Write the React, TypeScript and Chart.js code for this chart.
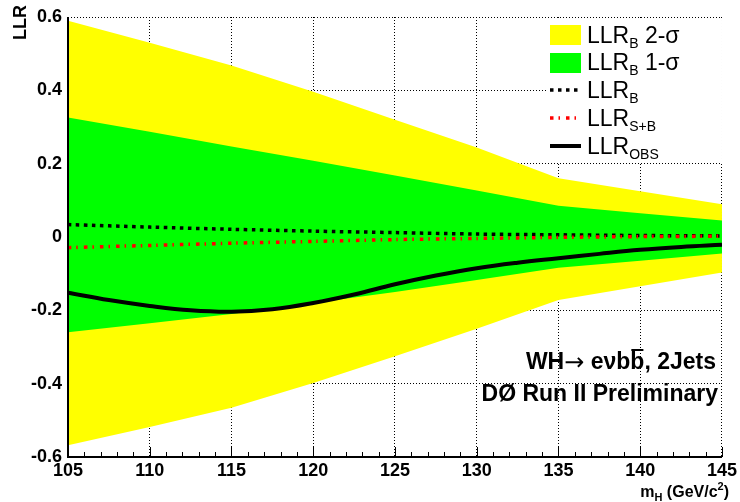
import React, { useEffect, useRef } from 'react';
import { Chart, registerables } from 'chart.js';

Chart.register(...registerables);

// ---- data ----
const masses = [105, 110, 115, 120, 125, 130, 135, 140, 145];
const yellowUpper = [0.59, 0.53, 0.468, 0.396, 0.32, 0.244, 0.16, 0.125, 0.089];
const greenUpper = [0.326, 0.287, 0.247, 0.208, 0.168, 0.127, 0.085, 0.065, 0.045];
const greenLower = [-0.26, -0.235, -0.21, -0.18, -0.15, -0.117, -0.084, -0.065, -0.045];
const yellowLower = [-0.568, -0.518, -0.466, -0.398, -0.325, -0.25, -0.172, -0.134, -0.097];
const llrB = [0.034, 0.027, 0.021, 0.016, 0.012, 0.008, 0.006, 0.004, 0.003];
const llrSB = [-0.029, -0.023, -0.017, -0.012, -0.007, -0.004, -0.001, 0.001, 0.002];
const obsMasses = [105, 107.5, 110, 112.5, 115, 117.5, 120, 122.5, 125, 127.5, 130, 132.5, 135, 137.5, 140, 142.5, 145];
const llrObs = [-0.152, -0.172, -0.188, -0.2, -0.204, -0.197, -0.18, -0.157, -0.129, -0.105, -0.085, -0.07, -0.058, -0.046, -0.035, -0.027, -0.021];

const xMin = 105;
const xMax = 145;
const xStep = 5;
const yMin = -0.6;
const yMax = 0.6;
const yStep = 0.2;

const legendLabels = [
  { main: 'LLR', sub: 'B', tail: ' 2-σ' },
  { main: 'LLR', sub: 'B', tail: ' 1-σ' },
  { main: 'LLR', sub: 'B', tail: '' },
  { main: 'LLR', sub: 'S+B', tail: '' },
  { main: 'LLR', sub: 'OBS', tail: '' },
];
const titleLine2 = 'DØ Run II Preliminary';
const xTitle = { main: 'm', sub: 'H', mid: ' (GeV/c', sup: '2', end: ')' };
const yTitle = 'LLR';

const FONT = '"Liberation Sans", Arial, Helvetica, sans-serif';
const YELLOW = '#ffff00';
const GREEN = '#00ff00';

const pts = (xs: number[], ys: number[]) => xs.map((x, i) => ({ x, y: ys[i] }));

type Run = { t: string; f: string; dy?: number; overline?: boolean };

function drawRuns(ctx: CanvasRenderingContext2D, runs: Run[], x: number, y: number, align: 'left' | 'right') {
  let total = 0;
  for (const r of runs) {
    ctx.font = r.f;
    total += ctx.measureText(r.t).width;
  }
  let cx = align === 'right' ? x - total : x;
  ctx.textAlign = 'left';
  ctx.textBaseline = 'alphabetic';
  for (const r of runs) {
    ctx.font = r.f;
    const w = ctx.measureText(r.t).width;
    ctx.fillText(r.t, cx, y + (r.dy || 0));
    if (r.overline) {
      ctx.fillRect(cx + 1, y - 20, w - 2, 2);
    }
    cx += w;
  }
}

const decorPlugin = {
  id: 'decor',
  afterDatasetsDraw(chart: any) {
    const ctx: CanvasRenderingContext2D = chart.ctx;
    const area = chart.chartArea;
    const xs = chart.scales.x;
    ctx.save();

    // frame (left & bottom axes)
    ctx.strokeStyle = '#000';
    ctx.lineWidth = 2;
    ctx.setLineDash([]);
    ctx.beginPath();
    ctx.moveTo(area.left, area.top);
    ctx.lineTo(area.left, area.bottom);
    ctx.lineTo(area.right, area.bottom);
    ctx.stroke();

    // bottom ticks (major + minor), pointing into the frame
    ctx.lineWidth = 1;
    ctx.beginPath();
    for (let m = xMin; m <= xMax; m += 1) {
      const px = Math.round(xs.getPixelForValue(m)) + 0.5;
      const len = (m - xMin) % xStep === 0 ? 10 : 5;
      ctx.moveTo(px, area.bottom);
      ctx.lineTo(px, area.bottom - len);
    }
    ctx.stroke();

    // legend box
    const lx = 548;
    ctx.fillStyle = '#fff';
    ctx.fillRect(lx, area.top + 1, area.right - lx, 162 - area.top);

    const baselines = [42.5, 70, 98, 126, 153.5];
    const symX0 = 550;
    const symX1 = 581;
    ctx.fillStyle = YELLOW;
    ctx.fillRect(symX0, 25, symX1 - symX0, 20);
    ctx.fillStyle = GREEN;
    ctx.fillRect(symX0, 53, symX1 - symX0, 20);
    const drawSym = (y: number, color: string, width: number, dash: number[]) => {
      ctx.strokeStyle = color;
      ctx.lineWidth = width;
      ctx.setLineDash(dash);
      ctx.beginPath();
      ctx.moveTo(symX0, y);
      ctx.lineTo(symX1, y);
      ctx.stroke();
    };
    drawSym(90, '#000', 3.5, [3.5, 4.5]);
    drawSym(118, '#ff0000', 3.5, [3.5, 5, 1.5, 6]);
    drawSym(146, '#000', 4, []);
    ctx.setLineDash([]);

    ctx.fillStyle = '#000';
    legendLabels.forEach((l, i) => {
      const runs: Run[] = [
        { t: l.main, f: `23px ${FONT}` },
        { t: l.sub, f: `14px ${FONT}`, dy: 5 },
      ];
      if (l.tail) runs.push({ t: l.tail, f: `23px ${FONT}` });
      drawRuns(ctx, runs, 587, baselines[i], 'left');
    });

    // annotation text
    const bf = `bold 23px ${FONT}`;
    drawRuns(
      ctx,
      [
        { t: 'WH', f: bf },
        { t: '→', f: `24px "DejaVu Sans", ${FONT}`, dy: 1 },
        { t: ' eνb', f: bf },
        { t: 'b', f: bf, overline: true },
        { t: ', 2Jets', f: bf },
      ],
      716,
      369,
      'right'
    );
    ctx.font = bf;
    ctx.textAlign = 'right';
    ctx.fillText(titleLine2, 718, 401);

    // x title
    drawRuns(
      ctx,
      [
        { t: xTitle.main, f: `bold 16px ${FONT}` },
        { t: xTitle.sub, f: `bold 11px ${FONT}`, dy: 4 },
        { t: xTitle.mid, f: `bold 16px ${FONT}` },
        { t: xTitle.sup, f: `bold 11px ${FONT}`, dy: -7 },
        { t: xTitle.end, f: `bold 16px ${FONT}` },
      ],
      729,
      497,
      'right'
    );

    // y title
    ctx.save();
    ctx.translate(21, 5);
    ctx.rotate(-Math.PI / 2);
    ctx.font = `bold 18px ${FONT}`;
    ctx.textAlign = 'right';
    ctx.textBaseline = 'middle';
    ctx.fillText(yTitle, 0, 0);
    ctx.restore();

    ctx.restore();
  },
};

export default function App() {
  const ref = useRef<HTMLCanvasElement | null>(null);

  useEffect(() => {
    document.body.style.margin = '0';
    const canvas = ref.current;
    if (!canvas) return;
    const chart = new Chart(canvas, {
      type: 'line',
      data: {
        datasets: [
          {
            label: 'yellowUpper',
            data: pts(masses, yellowUpper),
            fill: '+1',
            backgroundColor: YELLOW,
            borderWidth: 0,
            pointRadius: 0,
            order: 6,
          },
          {
            label: 'yellowLower',
            data: pts(masses, yellowLower),
            fill: false,
            borderWidth: 0,
            pointRadius: 0,
            order: 6,
          },
          {
            label: 'greenUpper',
            data: pts(masses, greenUpper),
            fill: '+1',
            backgroundColor: GREEN,
            borderWidth: 0,
            pointRadius: 0,
            order: 5,
          },
          {
            label: 'greenLower',
            data: pts(masses, greenLower),
            fill: false,
            borderWidth: 0,
            pointRadius: 0,
            order: 5,
          },
          {
            label: 'LLR_B',
            data: pts(masses, llrB),
            fill: false,
            borderColor: '#000',
            borderWidth: 3.5,
            borderDash: [3.5, 4.5],
            pointRadius: 0,
            tension: 0.3,
            order: 3,
          },
          {
            label: 'LLR_S+B',
            data: pts(masses, llrSB),
            fill: false,
            borderColor: '#ff0000',
            borderWidth: 3.5,
            borderDash: [3.5, 5, 1.5, 6],
            pointRadius: 0,
            tension: 0.3,
            order: 2,
          },
          {
            label: 'LLR_OBS',
            data: pts(obsMasses, llrObs),
            fill: false,
            borderColor: '#000',
            borderWidth: 4,
            pointRadius: 0,
            tension: 0.4,
            order: 1,
          },
        ],
      },
      options: {
        animation: false,
        responsive: false,
        devicePixelRatio: 1,
        events: [],
        layout: { padding: { top: 17, right: 17, left: 0, bottom: 0 } },
        plugins: {
          legend: { display: false },
          tooltip: { enabled: false },
        },
        scales: {
          x: {
            type: 'linear',
            min: xMin,
            max: xMax,
            afterFit: (s: any) => {
              s.height = 45;
            },
            ticks: {
              stepSize: xStep,
              color: '#000',
              padding: 3,
              maxRotation: 0,
              font: { family: FONT, size: 18, weight: 'bold' },
            },
            grid: { color: '#000', lineWidth: 1, drawTicks: false },
            border: { display: false, dash: [1, 2] },
          },
          y: {
            type: 'linear',
            min: yMin,
            max: yMax,
            afterFit: (s: any) => {
              s.width = 68;
            },
            ticks: {
              stepSize: yStep,
              color: '#000',
              padding: 6,
              font: { family: FONT, size: 18, weight: 'bold' },
              callback: (v: any) => {
                const r = Math.round(Number(v) * 10) / 10;
                return r === 0 ? '0' : r.toFixed(1);
              },
            },
            grid: { color: '#000', lineWidth: 1, drawTicks: false },
            border: { display: false, dash: [1, 2] },
          },
        },
      } as any,
      plugins: [decorPlugin],
    });
    return () => chart.destroy();
  }, []);

  return (
    <div style={{ position: 'absolute', left: 0, top: 0, width: 740, height: 502 }}>
      <canvas ref={ref} width={740} height={502} style={{ display: 'block' }} />
    </div>
  );
}
